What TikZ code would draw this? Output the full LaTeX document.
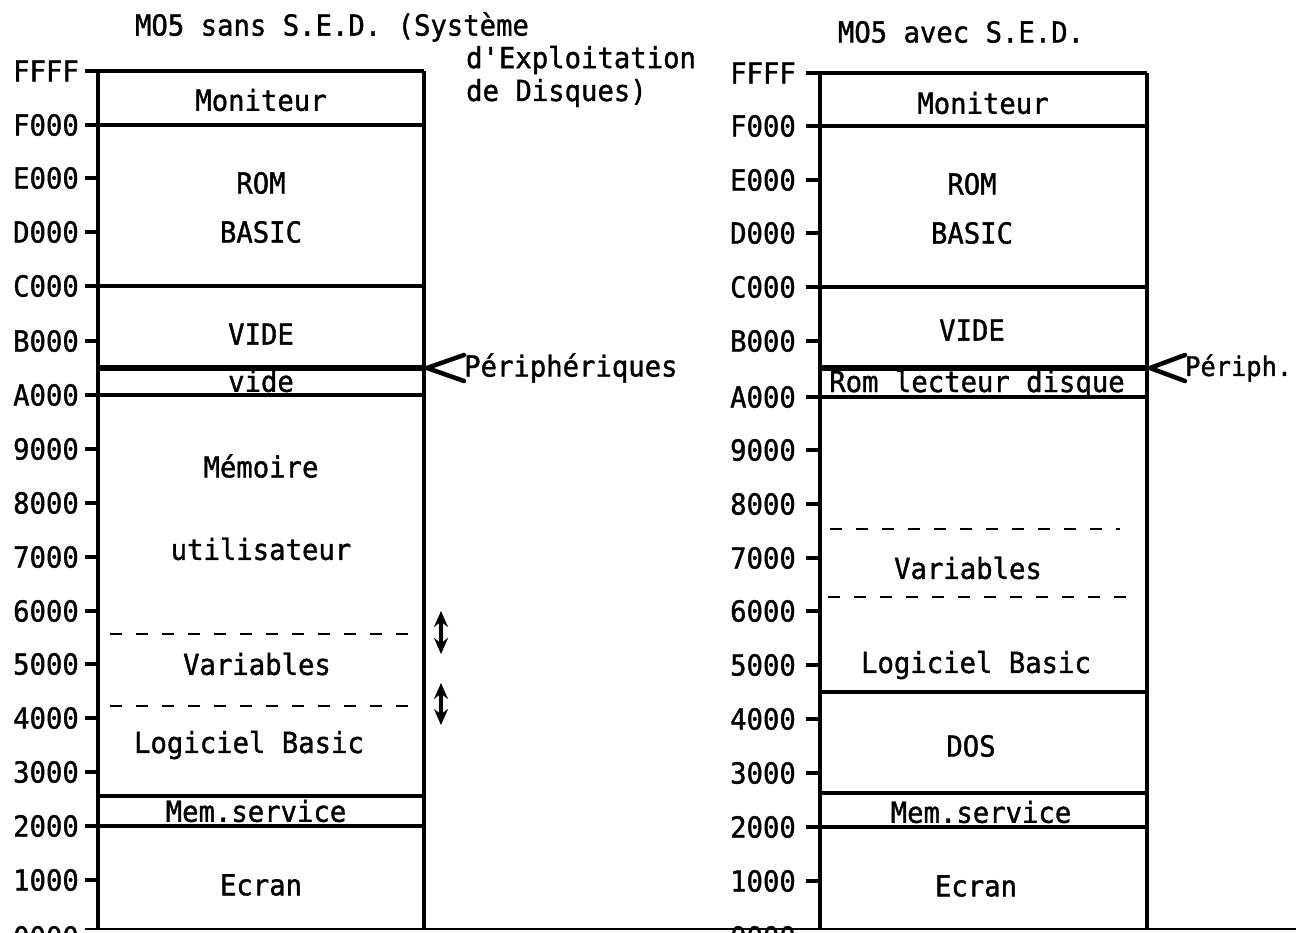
\documentclass[tikz,border=0pt]{standalone}
\usepackage{fontspec}
\newfontfamily\monofam[FakeStretch=0.94,FakeBold=1.2]{DejaVu Sans Mono}
\usetikzlibrary{arrows.meta}
\tikzset{
  boxline/.style={line width=3.6pt},
  periline/.style={line width=6pt},
  thinline/.style={line width=2.2pt},
  dashline/.style={line width=2.2pt, dash pattern=on 12pt off 14pt},
  ticline/.style={line width=3.6pt},
  txt/.style={font=\monofam\fontsize{29}{32}\selectfont, inner sep=0pt, anchor=center},
  addr/.style={font=\monofam\fontsize{29}{32}\selectfont, inner sep=0pt, anchor=east},
  chevron/.style={line width=4.5pt, line cap=round},
  updown/.style={line width=3.2pt, {Stealth[length=16pt,width=14pt]}-{Stealth[length=16pt,width=14pt]}}
}
\begin{document}
\begin{tikzpicture}[x=1pt,y=-1pt]
\useasboundingbox (0,0) rectangle (1296,932);
\clip (0,0) rectangle (1296,932);
\fill[white] (0,0) rectangle (1296,932);

% ---------- titles ----------
\node[txt] (titleL) at (332,27) {MO5 sans S.E.D. (Système};
\node[txt, anchor=west] (titleL2) at (466,60) {d'Exploitation};
\node[txt, anchor=west] (titleL3) at (466,93) {de Disques)};
\node[txt] (titleR) at (961,32) {MO5 avec S.E.D.};

% ---------- left address labels and ticks ----------
\foreach \a/\y in {FFFF/71,F000/125,E000/178,D000/232,C000/286,B000/341,A000/395,9000/449,8000/503,7000/557,6000/611,5000/664,4000/718,3000/772,2000/826,1000/880,0000/937}{
  \node[addr] (L\a) at (79,\y) {\a};
  \draw[ticline] (85,\y) -- (98,\y);
}
% ---------- right address labels and ticks ----------
\foreach \a/\y in {FFFF/73,F000/126,E000/180,D000/233,C000/287,B000/341,A000/397,9000/450,8000/504,7000/558,6000/611,5000/665,4000/719,3000/773,2000/827,1000/881,0000/937}{
  \node[addr] (R\a) at (796,\y) {\a};
  \draw[ticline] (806,\y) -- (820,\y);
}

% ---------- bottom line ----------
\draw[thinline] (85,929) -- (1296,929);

% ---------- left memory map ----------
\draw[boxline] (98,71) -- (98,929);
\draw[boxline] (424,71) -- (424,929);
\foreach \y in {71,125,286,395,826}{ \draw[boxline] (98,\y) -- (424,\y); }
\draw[boxline] (98,796) -- (424,796);
\draw[periline] (98,368) -- (424,368);
\draw[dashline] (110,634) -- (420,634);
\draw[dashline] (110,706) -- (420,706);

\node[txt] (l-mon) at (261,100) {Moniteur};
\node[txt] (l-rom) at (261,183) {ROM};
\node[txt] (l-bas) at (261,232) {BASIC};
\node[txt] (l-vide) at (261,334) {VIDE};
\node[txt] (l-vide2) at (261,381) {vide};
\node[txt] (l-mem) at (261,466) {Mémoire};
\node[txt] (l-uti) at (261,549) {utilisateur};
\node[txt] (l-var) at (257,664) {Variables};
\node[txt] (l-log) at (249,745) {Logiciel Basic};
\node[txt] (l-ms) at (256,811) {Mem.service};
\node[txt] (l-ecr) at (261,885) {Ecran};

% double arrows
\coordinate (a1t) at (441,611);
\coordinate (a1b) at (441,654);
\coordinate (a2t) at (441,683);
\coordinate (a2b) at (441,725);
\draw[updown] (a1t) -- (a1b);
\draw[updown] (a2t) -- (a2b);

% Peripheriques chevron
\node[txt, anchor=west] (l-peri) at (464,368) {Périphériques};
\coordinate (lp) at (427,368);
\draw[chevron] (l-peri.west |- 0,355) -- (lp) -- (l-peri.west |- 0,381);

% ---------- right memory map ----------
\draw[boxline] (820,73) -- (820,929);
\draw[boxline] (1147,73) -- (1147,929);
\foreach \y in {73,126,287,397,692,793,827}{ \draw[boxline] (820,\y) -- (1147,\y); }
\draw[periline] (820,368) -- (1147,368);
\draw[dashline] (830,529) -- (1120,529);
\draw[dashline] (828,597) -- (1136,597);

\node[txt] (r-mon) at (983,103) {Moniteur};
\node[txt] (r-rom) at (972,184) {ROM};
\node[txt] (r-bas) at (972,233) {BASIC};
\node[txt] (r-vide) at (972,330) {VIDE};
\node[txt] (r-rld) at (977,384) {Rom lecteur disque};
\node[txt] (r-var) at (968,568) {Variables};
\node[txt] (r-log) at (976,665) {Logiciel Basic};
\node[txt] (r-dos) at (971,746) {DOS};
\node[txt] (r-ms) at (981,812) {Mem.service};
\node[txt] (r-ecr) at (976,886) {Ecran};

\node[txt, anchor=west, font=\monofam\fontsize{27}{30}\selectfont] (r-peri) at (1185,368) {Périph.};
\coordinate (rp) at (1150,368);
\draw[chevron] (r-peri.west |- 0,355) -- (rp) -- (r-peri.west |- 0,381);
\end{tikzpicture}
\end{document}
